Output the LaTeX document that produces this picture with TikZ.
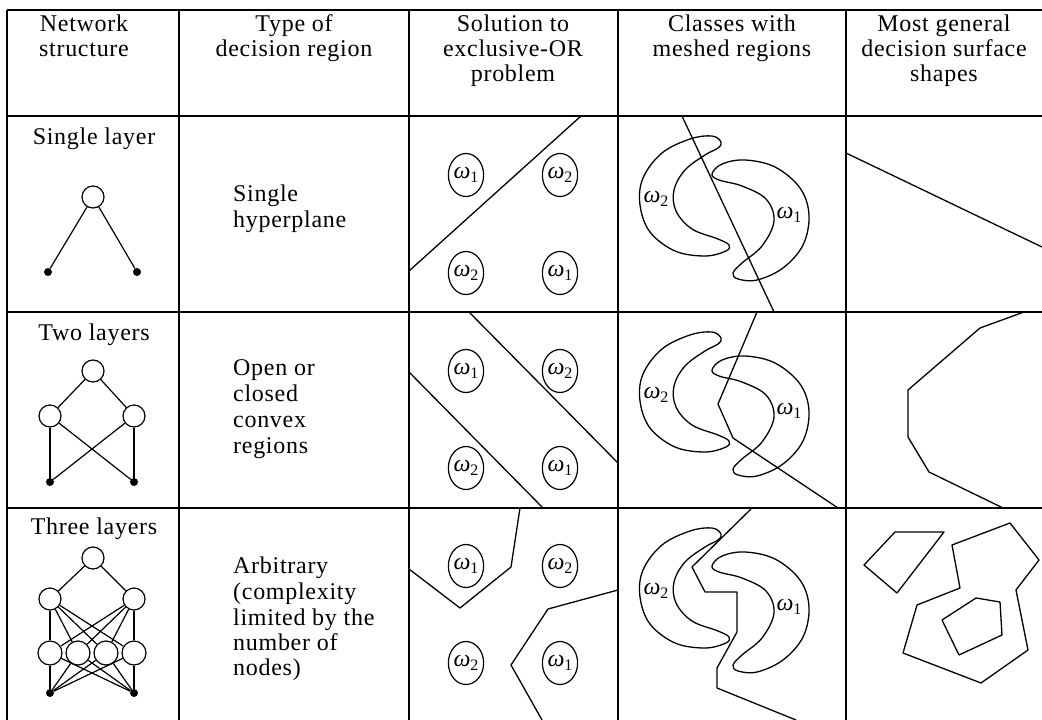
\documentclass[tikz,border=0pt]{standalone}
\usepackage{fontspec}
\setmainfont{Liberation Serif}[LetterSpace=3]
\usetikzlibrary{shapes.geometric}

% class label: italic omega with an upright index
\newcommand\omg[1]{{\itshape ω}\raisebox{-0.35ex}{\fontsize{16}{16}\selectfont #1}}

% the two interleaved crescent-shaped classes (coordinates of the first row)
\newcommand\crescentpair{%
  \draw[curve] plot[smooth cycle, tension=0.6] coordinates {
    (721,142) (712,136) (690,139) (662,153) (643,178) (640,205) (650,232)
    (675,251) (705,256) (726,251) (729,245) (718,239) (692,229) (676,211)
    (674,190) (685,170) (705,155) (718,148)};
  \draw[curve] plot[smooth cycle, tension=0.6] coordinates {
    (712,174) (722,164) (745,160) (775,167) (800,188) (809,215) (803,245)
    (783,268) (757,280) (738,279) (733,273) (742,263) (762,246) (774,221)
    (766,199) (742,186) (719,180)};
}

\begin{document}
\begin{tikzpicture}[x=1pt, y=-1pt,
  rule/.style={line width=1.5pt},
  curve/.style={line width=1.3pt, line join=round},
  txt/.style={font=\fontsize{24}{26}\selectfont, inner sep=0pt},
  hd/.style={txt, anchor=base},
  bd/.style={txt, anchor=base west},
  unit/.style={circle, draw, line width=1.2pt, minimum size=22pt, inner sep=0pt},
  inp/.style={circle, fill, minimum size=8pt, inner sep=0pt},
  wire/.style={line width=1.2pt},
  cls/.style={ellipse, draw, line width=1.2pt, minimum width=35pt,
    minimum height=43pt, inner sep=0pt, font=\fontsize{24}{26}\selectfont},
  lab/.style={inner sep=0pt, font=\fontsize{24}{26}\selectfont}]

\useasboundingbox (0,0) rectangle (1042,720);

% ---- table rules
\draw[rule] (7,10) -- (1042,10);
\foreach \y in {116,312,508} \draw[rule] (7,\y) -- (1042,\y);
\foreach \x in {7,179,409,618,846} \draw[rule] (\x,10) -- (\x,720);

% ---- column heads
\node[hd] (h1a) at (84,31) {Network};
\node[hd] (h1b) at (84,56) {structure};
\node[hd] (h2a) at (294,31) {Type of};
\node[hd] (h2b) at (294,56) {decision region};
\node[hd] (h3a) at (513,31) {Solution to};
\node[hd] (h3b) at (513,56) {exclusive-OR};
\node[hd] (h3c) at (513,81) {problem};
\node[hd] (h4a) at (732,31) {Classes with};
\node[hd] (h4b) at (732,56) {meshed regions};
\node[hd] (h5a) at (944,31) {Most general};
\node[hd] (h5b) at (944,56) {decision surface};
\node[hd] (h5c) at (944,81) {shapes};

% ---- network structure
\node[hd] (n1) at (94,144) {Single layer};
\node[hd] (n2) at (94,340) {Two layers};
\node[hd] (n3) at (94,534) {Three layers};

% single layer
\node[unit] (s1o) at (93,197) {};
\node[inp] (s1a) at (48,272) {};
\node[inp] (s1b) at (137,272) {};
\draw[wire] (s1o) -- (s1a);
\draw[wire] (s1o) -- (s1b);

% two layers
\node[unit] (t2o) at (93,371) {};
\node[unit] (t2h1) at (50,416) {};
\node[unit] (t2h2) at (134,416) {};
\node[inp] (t2a) at (50,482) {};
\node[inp] (t2b) at (134,482) {};
\foreach \h in {t2h1,t2h2} {
  \draw[wire] (t2o) -- (\h);
  \draw[wire] (\h) -- (t2a);
  \draw[wire] (\h) -- (t2b);
}

% three layers
\node[unit] (r3o) at (93,558) {};
\node[unit] (r3p1) at (50,599) {};
\node[unit] (r3p2) at (134,599) {};
\foreach \i/\x in {1/50,2/78,3/106,4/134}
  \node[unit, minimum size=24pt] (r3q\i) at (\x,653) {};
\node[inp] (r3a) at (50,693) {};
\node[inp] (r3b) at (134,693) {};
\foreach \p in {r3p1,r3p2} {
  \draw[wire] (r3o) -- (\p);
  \foreach \i in {1,2,3,4} \draw[wire] (\p) -- (r3q\i);
}
\foreach \i in {1,2,3,4} {
  \draw[wire] (r3q\i) -- (r3a);
  \draw[wire] (r3q\i) -- (r3b);
}

% ---- type of decision region
\node[bd] (d1a) at (233,201) {Single};
\node[bd] (d1b) at (233,227) {hyperplane};
\node[bd] (d2a) at (233,375) {Open or};
\node[bd] (d2b) at (233,401) {closed};
\node[bd] (d2c) at (233,427) {convex};
\node[bd] (d2d) at (233,453) {regions};
\node[bd] (d3a) at (233,573) {Arbitrary};
\node[bd] (d3b) at (233,599) {(complexity};
\node[bd] (d3c) at (233,625) {limited by the};
\node[bd] (d3d) at (233,650) {number of};
\node[bd] (d3e) at (233,675) {nodes)};

% ---- exclusive-OR problem
\node[cls] (x1a) at (466,175) {\omg1};
\node[cls] (x1b) at (560,175) {\omg2};
\node[cls] (x1c) at (466,273) {\omg2};
\node[cls] (x1d) at (560,273) {\omg1};
\draw[curve] (409,271) -- (581,116);

\node[cls] (x2a) at (466,371) {\omg1};
\node[cls] (x2b) at (560,371) {\omg2};
\node[cls] (x2c) at (466,468) {\omg2};
\node[cls] (x2d) at (560,468) {\omg1};
\draw[curve] (469,312) -- (618,463);
\draw[curve] (409,372) -- (543,508);

\node[cls] (x3a) at (466,566) {\omg1};
\node[cls] (x3b) at (560,566) {\omg2};
\node[cls] (x3c) at (466,663) {\omg2};
\node[cls] (x3d) at (560,663) {\omg1};
\draw[curve] (409,569) -- (460,608) -- (511,567) -- (520,508);
\draw[curve] (618,590) -- (548,609) -- (511,665) -- (542,720);

% ---- classes with meshed regions
\crescentpair
\begin{scope}[shift={(0,196)}]\crescentpair\end{scope}
\begin{scope}[shift={(0,392)}]\crescentpair\end{scope}
\node[lab] (m1a) at (656,199) {\omg2};
\node[lab] (m1b) at (789,215) {\omg1};
\node[lab] (m2a) at (656,395) {\omg2};
\node[lab] (m2b) at (789,411) {\omg1};
\node[lab] (m3a) at (656,591) {\omg2};
\node[lab] (m3b) at (789,607) {\omg1};
\draw[curve] (682,116) -- (774,312);
\draw[curve] (757,312) -- (718,404) -- (733,438) -- (838,508);
\draw[curve] (752,508) -- (692,567) -- (705,592) -- (737,592) -- (737,632)
  -- (717,668) -- (717,688) -- (796,720);

% ---- most general decision surfaces
\draw[curve] (846,153) -- (1042,247);
\draw[curve] (1024,312) -- (980,328) -- (908,390) -- (908,437) -- (929,472)
  -- (1003,508);
\draw[curve] (864,565) -- (895,532) -- (944,532) -- (897,593) -- cycle;
\draw[curve] (952,545) -- (1010,523) -- (1039,560) -- (1016,590) -- (1028,650)
  -- (981,683) -- (903,653) -- (917,605) -- (960,588) -- cycle;
\draw[curve] (976,598) -- (1000,602) -- (1002,635) -- (959,655) -- (942,620)
  -- cycle;
\end{tikzpicture}
\end{document}
